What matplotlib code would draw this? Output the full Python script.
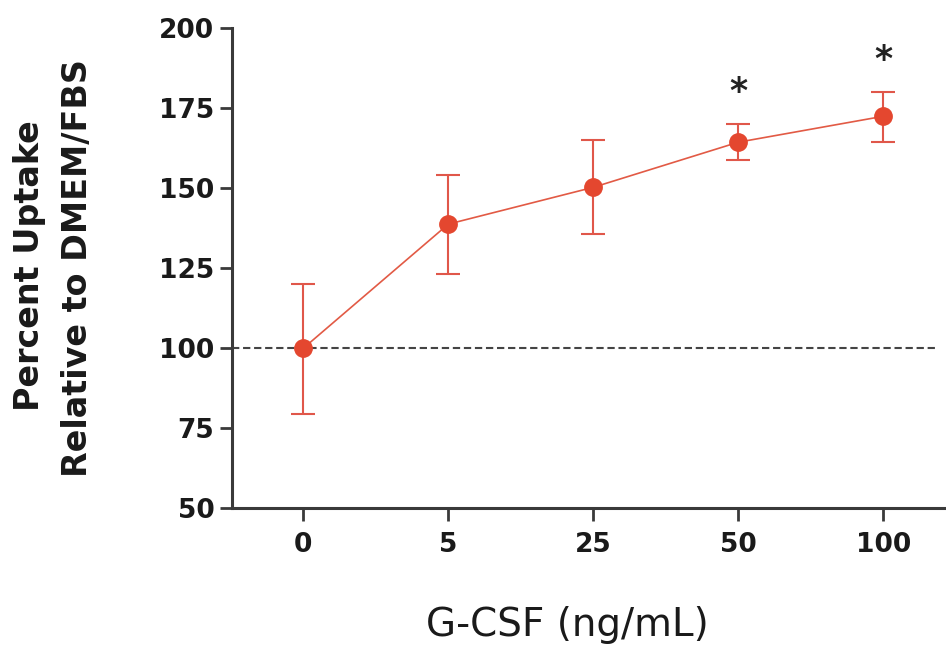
import matplotlib
matplotlib.use('Agg')
import matplotlib.pyplot as plt

# data
doses = ['0', '5', '25', '50', '100']
uptake = [100.0, 138.8, 150.3, 164.4, 172.5]
err_low = [79.5, 123.3, 135.8, 158.9, 164.5]
err_high = [120.2, 154.3, 165.0, 170.2, 180.1]
sig = ['', '', '', '*', '*']
baseline = 100

x = list(range(len(doses)))
yerr = [[u - lo for u, lo in zip(uptake, err_low)],
        [hi - u for u, hi in zip(uptake, err_high)]]

fig = plt.figure(figsize=(9.46, 6.56), dpi=100)
ax = fig.add_axes([0.2449, 0.2252, 0.7551, 0.7317])

ax.hlines(baseline, -0.494, 4.38, colors='#444444', linewidth=1.5,
          linestyles=(0, (3.5, 1.8)), zorder=1)

ax.errorbar(x, uptake, yerr=yerr, fmt='-o', color='#e25a45', ecolor='#e0574a',
            elinewidth=1.5, capsize=8.5, capthick=1.5, linewidth=1.2,
            markersize=12.5, markerfacecolor='#e4472f', markeredgecolor='#e4472f',
            zorder=3)

for xi, hi, s in zip(x, err_high, sig):
    if s:
        ax.text(xi, hi + 10, s, ha='center', va='center', fontsize=25,
                fontweight='bold', color='#222222')

ax.set_xlim(-0.494, 4.432)
ax.set_ylim(50, 200)
ax.set_yticks([50, 75, 100, 125, 150, 175, 200])
ax.set_xticks(x)
ax.set_xticklabels(doses)

for side in ['top', 'right']:
    ax.spines[side].set_visible(False)
for side in ['left', 'bottom']:
    ax.spines[side].set_linewidth(2.2)
    ax.spines[side].set_color('#3a3a3a')
ax.spines['bottom'].set_bounds(-0.494, 4.5)

ax.tick_params(axis='both', length=9, width=2, color='#3a3a3a', labelsize=19)
ax.tick_params(axis='y', pad=3.5)
ax.tick_params(axis='x', pad=8)
for lab in ax.get_xticklabels() + ax.get_yticklabels():
    lab.set_fontweight('bold')
    lab.set_color('#1a1a1a')

fig.text(30 / 946, 1 - 266 / 656, 'Percent Uptake', rotation=90, ha='center',
         va='center', fontsize=24, fontweight='bold', color='#1a1a1a')
fig.text(78 / 946, 1 - 268 / 656, 'Relative to DMEM/FBS', rotation=90,
         ha='center', va='center', fontsize=24, fontweight='bold', color='#1a1a1a')
fig.text(567 / 946, 1 - 636 / 656, 'G-CSF (ng/mL)', ha='center', va='baseline',
         fontsize=28, color='#1a1a1a')

fig.savefig('out.png', dpi=100)
